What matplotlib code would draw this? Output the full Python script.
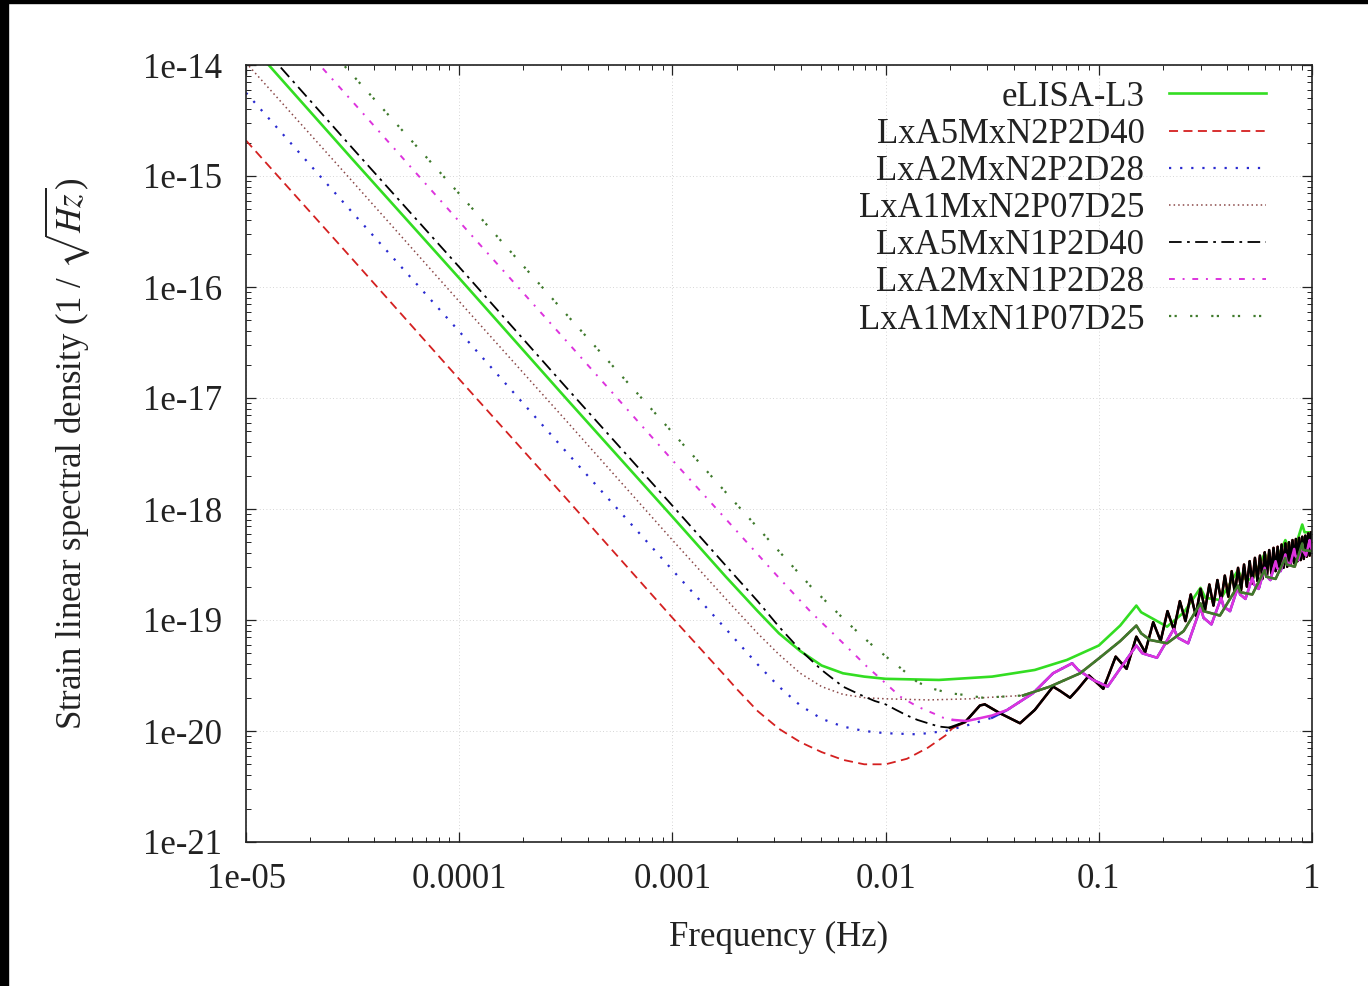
import numpy as np
import matplotlib
matplotlib.use('Agg')
import matplotlib.pyplot as plt
from matplotlib.patches import Rectangle
from matplotlib.ticker import LogLocator, NullFormatter

plt.rcParams['font.family'] = ['Liberation Serif', 'DejaVu Serif']
plt.rcParams['mathtext.fontset'] = 'stix'

# Values: frequency in Hz, strain as log10(h)
green_f = [1e-5, 3.16e-5, 1e-4, 3.16e-4, 1e-3, 1.78e-3, 2.51e-3, 3.16e-3, 3.98e-3, 5.01e-3, 6.31e-3,
           7.94e-3, 0.01, 0.0178, 0.0316, 0.0501, 0.0708, 0.1, 0.126, 0.15, 0.158, 0.209, 0.251, 0.30,
           0.316, 0.37, 0.45, 0.467, 0.525, 0.60, 0.624, 0.675, 0.75, 0.776, 0.83, 0.90, 0.923, 1.0]
green_h = [-13.77, -14.85, -15.92, -17.00, -18.07, -18.61, -18.92, -19.12, -19.28, -19.41, -19.48,
           -19.51, -19.53, -19.54, -19.51, -19.45, -19.36, -19.23, -19.05, -18.87, -18.93, -19.06, -18.93, -18.71,
           -18.80, -18.82, -18.55, -18.62, -18.64, -18.40, -18.47, -18.48, -18.28, -18.35, -18.36, -18.14, -18.21, -18.21]

red_f = [1e-5, 3.16e-5, 1e-4, 3.16e-4, 1e-3, 1.78e-3, 2.0e-3, 2.51e-3, 3.16e-3, 3.98e-3, 5.01e-3, 6.31e-3,
         7.94e-3, 0.01, 0.0126, 0.0158, 0.0191]
red_h = [-14.68, -15.75, -16.83, -17.90, -18.98, -19.51, -19.62, -19.82, -19.98, -20.10, -20.19, -20.26,
         -20.30, -20.30, -20.25, -20.15, -20.04]

blue_f = [1e-5, 3.16e-5, 1e-4, 3.16e-4, 1e-3, 1.78e-3, 2.51e-3, 3.16e-3, 3.98e-3, 5.01e-3, 6.31e-3, 7.94e-3,
          0.01, 0.0141, 0.0191, 0.0251, 0.0316]
blue_h = [-14.25, -15.33, -16.40, -17.48, -18.55, -19.08, -19.40, -19.60, -19.77, -19.89, -19.96, -20.00,
          -20.02, -20.03, -20.00, -19.94, -19.88]

brown_f = [1e-5, 3.16e-5, 1e-4, 3.16e-4, 1e-3, 1.78e-3, 2.51e-3, 3.16e-3, 3.98e-3, 5.01e-3, 6.31e-3, 7.94e-3,
           0.01, 0.0158, 0.0251]
brown_h = [-13.98, -15.05, -16.13, -17.20, -18.28, -18.81, -19.12, -19.31, -19.48, -19.60, -19.67, -19.70,
           -19.71, -19.72, -19.71]

black_f = [1e-5, 3.16e-5, 1e-4, 3.16e-4, 1e-3, 1.78e-3, 2.51e-3, 3.16e-3, 3.98e-3, 5.01e-3, 6.31e-3, 7.94e-3,
           8.91e-3, 0.01, 0.0112, 0.0126, 0.0141, 0.0158, 0.0178, 0.02]
black_h = [-13.67, -14.75, -15.82, -16.90, -17.97, -18.51, -18.83, -19.06, -19.27, -19.45, -19.60, -19.69,
           -19.73, -19.76, -19.81, -19.86, -19.90, -19.93, -19.96, -19.97]

magenta_f = [1e-5, 3.16e-5, 1e-4, 3.16e-4, 1e-3, 1.78e-3, 3.16e-3, 4.47e-3, 6.1e-3, 8.18e-3, 0.01,
             0.0117, 0.0141, 0.0167, 0.0186, 0.0207, 0.0241, 0.0316]
magenta_h = [-13.26, -14.33, -15.41, -16.48, -17.56, -18.09, -18.62, -18.93, -19.18, -19.42, -19.57,
             -19.69, -19.78, -19.84, -19.88, -19.90, -19.91, -19.86]

dkgreen_f = [1e-5, 3.16e-5, 1e-4, 3.16e-4, 1e-3, 1.78e-3, 3.16e-3, 4.47e-3, 6.59e-3, 8.45e-3, 0.0105,
             0.0117, 0.0141, 0.0167, 0.02, 0.0223]
dkgreen_h = [-13.01, -14.09, -15.16, -16.24, -17.31, -17.85, -18.38, -18.70, -19.02, -19.21, -19.36,
             -19.43, -19.56, -19.62, -19.66, -19.67]

# high frequency parts, same for the two configs with equal arm length
a5m_f = [0.0207, 0.0236, 0.0277, 0.0292, 0.0344, 0.0427, 0.0501, 0.061, 0.066, 0.0733, 0.08, 0.09,
         0.105, 0.12, 0.135, 0.15, 0.165, 0.18, 0.195, 0.21, 0.225, 0.24, 0.255, 0.27, 0.285, 0.30,
         0.315, 0.33, 0.345, 0.36, 0.375, 0.39, 0.405, 0.42, 0.435, 0.45, 0.465, 0.48, 0.495, 0.51,
         0.525, 0.54, 0.555, 0.57, 0.585, 0.60, 0.615, 0.63, 0.645, 0.66, 0.675, 0.69, 0.705, 0.72,
         0.735, 0.75, 0.765, 0.78, 0.795, 0.81, 0.825, 0.84, 0.855, 0.87, 0.885, 0.90, 0.915, 0.93,
         0.945, 0.96, 0.975, 0.99, 1.0]
a5m_h = [-19.97, -19.92, -19.77, -19.76, -19.84, -19.93, -19.81, -19.60, -19.64, -19.70, -19.62, -19.50,
         -19.62, -19.33, -19.44, -19.15, -19.29, -19.02, -19.19, -18.92, -19.09, -18.83, -19.01, -18.77,
         -18.96, -18.72, -18.91, -18.68, -18.87, -18.64, -18.83, -18.60, -18.79, -18.56, -18.76, -18.53,
         -18.73, -18.50, -18.70, -18.47, -18.67, -18.44, -18.65, -18.42, -18.63, -18.39, -18.60, -18.37,
         -18.58, -18.35, -18.56, -18.34, -18.55, -18.32, -18.53, -18.31, -18.52, -18.30, -18.50, -18.28,
         -18.49, -18.27, -18.47, -18.26, -18.46, -18.25, -18.45, -18.24, -18.43, -18.22, -18.42, -18.21,
         -18.30]

a2m_f = [0.0372, 0.0491, 0.061, 0.075, 0.08, 0.094, 0.11, 0.1216, 0.15, 0.16, 0.1875, 0.225, 0.235,
         0.2625, 0.30, 0.31, 0.3375, 0.375, 0.385, 0.4125, 0.45, 0.46, 0.4875, 0.525, 0.535, 0.5625,
         0.60, 0.61, 0.6375, 0.675, 0.685, 0.7125, 0.75, 0.76, 0.7875, 0.825, 0.835, 0.8625, 0.90,
         0.91, 0.9375, 0.975, 0.985, 1.0]
a2m_h = [-19.81, -19.66, -19.48, -19.39, -19.45, -19.54, -19.60, -19.48, -19.23, -19.30, -19.34, -19.08,
         -19.16, -19.21, -18.89, -18.98, -19.04, -18.80, -18.88, -18.92, -18.70, -18.77, -18.81, -18.62,
         -18.68, -18.72, -18.53, -18.60, -18.64, -18.47, -18.53, -18.56, -18.41, -18.47, -18.51, -18.36,
         -18.42, -18.46, -18.32, -18.38, -18.42, -18.28, -18.34, -18.37]

a1m_f = [0.0286, 0.0441, 0.059, 0.0817, 0.101, 0.126, 0.15, 0.158, 0.174, 0.209, 0.25, 0.30, 0.31,
         0.37, 0.45, 0.46, 0.525, 0.60, 0.61, 0.675, 0.75, 0.76, 0.83, 0.90, 0.91, 1.0]
a1m_h = [-19.70, -19.68, -19.60, -19.48, -19.34, -19.19, -19.05, -19.12, -19.18, -19.21, -19.10, -18.85,
         -18.92, -18.96, -18.69, -18.75, -18.77, -18.55, -18.61, -18.63, -18.44, -18.50, -18.52, -18.31,
         -18.37, -18.38]

labels = ['eLISA-L3', 'LxA5MxN2P2D40', 'LxA2MxN2P2D28', 'LxA1MxN2P07D25',
          'LxA5MxN1P2D40', 'LxA2MxN1P2D28', 'LxA1MxN1P07D25']

xtick_vals = [1e-5, 1e-4, 1e-3, 1e-2, 1e-1, 1]
xtick_labels = ['1e-05', '0.0001', '0.001', '0.01', '0.1', '1']
ytick_vals = [1e-21, 1e-20, 1e-19, 1e-18, 1e-17, 1e-16, 1e-15, 1e-14]
ytick_labels = ['1e-21', '1e-20', '1e-19', '1e-18', '1e-17', '1e-16', '1e-15', '1e-14']

# build the full curves
series_f = [green_f, red_f + a5m_f, blue_f + a2m_f, brown_f + a1m_f,
            black_f + a5m_f[1:], magenta_f + a2m_f, dkgreen_f + a1m_f]
series_h = [green_h, red_h + a5m_h, blue_h + a2m_h, brown_h + a1m_h,
            black_h + a5m_h[1:], magenta_h + a2m_h, dkgreen_h + a1m_h]

colors = ['#33dd22', '#d42020', '#2a2ad0', '#8a4848', '#000000', '#dd33dd', '#3f7a2c']
dashes = [None, (5, 3), (1, 4), (1, 2), (7, 3, 1.5, 3), (3, 4, 1, 4), (1, 1.5, 1, 6)]
widths = [1.9, 1.3, 1.6, 1.1, 1.3, 1.4, 1.6]
fcut = [None, 0.02, 0.03, 0.03, 0.02, 0.02, 0.03]

fig = plt.figure(figsize=(13.68, 9.86), dpi=100)
ax = fig.add_axes([246/1368, 1 - 842/986, 1066/1368, 777/986])

for i in range(len(labels)):
    f = np.array(series_f[i])
    h = 10.0 ** np.array(series_h[i])
    if dashes[i] is None:
        ax.plot(f, h, color=colors[i], lw=widths[i], label=labels[i])
    else:
        ax.plot(f, h, color=colors[i], lw=widths[i], dashes=dashes[i], label=labels[i])
        hi = f >= fcut[i]
        ax.plot(f[hi], h[hi], color=colors[i], lw=1.8)

ax.set_xscale('log')
ax.set_yscale('log')
ax.set_xlim(1e-5, 1)
ax.set_ylim(1e-21, 1e-14)
ax.set_xticks(xtick_vals, xtick_labels)
ax.set_yticks(ytick_vals, ytick_labels)
ax.xaxis.set_minor_locator(LogLocator(base=10, subs=np.arange(2, 10), numticks=30))
ax.yaxis.set_minor_locator(LogLocator(base=10, subs=np.arange(2, 10), numticks=30))
ax.xaxis.set_minor_formatter(NullFormatter())
ax.yaxis.set_minor_formatter(NullFormatter())
ax.tick_params(which='both', direction='in', top=True, right=True, colors='#222222')
ax.tick_params(which='major', length=7, width=0.9, labelsize=25, labelcolor='#222222')
ax.tick_params(axis='y', which='major', pad=17)
ax.tick_params(axis='x', which='major', pad=15)
ax.tick_params(which='minor', length=3.5, width=0.7)
ax.grid(True, which='major', color='#c8c8c8', linestyle=(0, (1, 3)), linewidth=0.6)
for s in ax.spines.values():
    s.set_linewidth(1.2)
    s.set_color('#222222')

ax.set_xlabel('Frequency (Hz)', fontsize=25, labelpad=18, color='#222222')
ax.set_ylabel(r'Strain linear spectral density (1 / $\sqrt{Hz}$)', fontsize=25, labelpad=37, color='#222222')

leg = ax.legend(loc='upper right', bbox_to_anchor=((1266 - 246) / 1066, 0.98), frameon=False,
                markerfirst=False, fontsize=25, handlelength=2.8, handletextpad=0.7,
                labelspacing=0.12, borderpad=0, borderaxespad=0)
for t in leg.get_texts():
    t.set_color('#222222')

# dark screenshot edges
fig.patches.append(Rectangle((0, 0), 8 / 1368, 1, transform=fig.transFigure, color='black', zorder=10))
fig.patches.append(Rectangle((0, 1 - 3 / 986), 1, 3 / 986, transform=fig.transFigure, color='black', zorder=10))

plt.savefig('out.png', dpi=100)
